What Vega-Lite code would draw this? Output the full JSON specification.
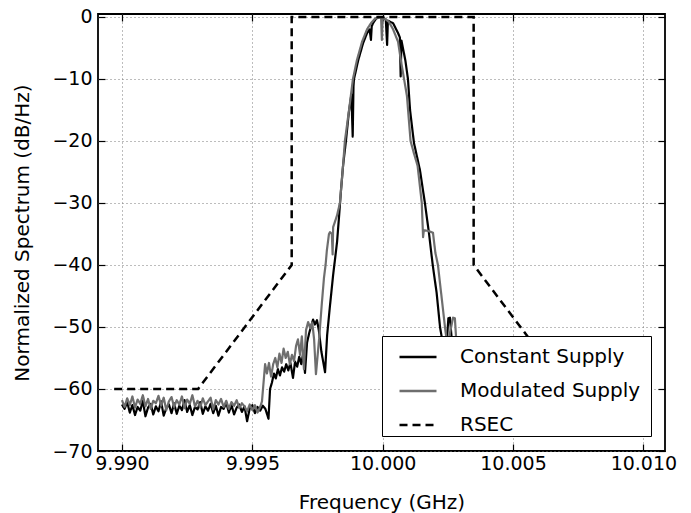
{
"$schema": "https://vega.github.io/schema/vega-lite/v6.json",
"width": 567, "height": 437,
"autosize": {"type": "none"},
"padding": {"left": 98, "top": 14, "right": 26, "bottom": 62},
"background": "white",
"config": {
  "view": {"stroke": "black", "strokeWidth": 1.8},
  "font": "DejaVu Sans"
},
"layer": [
{
"data": {"values": [
{"f":9.9900,"db":-62.5,"s":"Constant Supply"},{"f":9.9901,"db":-63.2,"s":"Constant Supply"},{"f":9.9902,"db":-62.1,"s":"Constant Supply"},{"f":9.9903,"db":-63.8,"s":"Constant Supply"},{"f":9.9904,"db":-62.6,"s":"Constant Supply"},{"f":9.9905,"db":-64.2,"s":"Constant Supply"},{"f":9.9906,"db":-62.9,"s":"Constant Supply"},{"f":9.9907,"db":-63.5,"s":"Constant Supply"},{"f":9.9908,"db":-61.9,"s":"Constant Supply"},{"f":9.9909,"db":-64.4,"s":"Constant Supply"},
{"f":9.9910,"db":-63.0,"s":"Constant Supply"},{"f":9.9911,"db":-62.4,"s":"Constant Supply"},{"f":9.9912,"db":-64.1,"s":"Constant Supply"},{"f":9.9913,"db":-62.8,"s":"Constant Supply"},{"f":9.9914,"db":-63.6,"s":"Constant Supply"},{"f":9.9915,"db":-62.0,"s":"Constant Supply"},{"f":9.9916,"db":-64.3,"s":"Constant Supply"},{"f":9.9917,"db":-63.1,"s":"Constant Supply"},{"f":9.9918,"db":-62.5,"s":"Constant Supply"},{"f":9.9919,"db":-63.9,"s":"Constant Supply"},
{"f":9.9920,"db":-62.3,"s":"Constant Supply"},{"f":9.9921,"db":-64.0,"s":"Constant Supply"},{"f":9.9922,"db":-62.7,"s":"Constant Supply"},{"f":9.9923,"db":-63.4,"s":"Constant Supply"},{"f":9.9924,"db":-61.8,"s":"Constant Supply"},{"f":9.9925,"db":-63.7,"s":"Constant Supply"},{"f":9.9926,"db":-62.6,"s":"Constant Supply"},{"f":9.9927,"db":-64.2,"s":"Constant Supply"},{"f":9.9928,"db":-62.9,"s":"Constant Supply"},{"f":9.9929,"db":-63.3,"s":"Constant Supply"},
{"f":9.9930,"db":-62.1,"s":"Constant Supply"},{"f":9.9931,"db":-64.0,"s":"Constant Supply"},{"f":9.9932,"db":-62.8,"s":"Constant Supply"},{"f":9.9933,"db":-63.5,"s":"Constant Supply"},{"f":9.9934,"db":-62.4,"s":"Constant Supply"},{"f":9.9935,"db":-63.9,"s":"Constant Supply"},{"f":9.9936,"db":-62.7,"s":"Constant Supply"},{"f":9.9937,"db":-64.3,"s":"Constant Supply"},{"f":9.9938,"db":-62.9,"s":"Constant Supply"},{"f":9.9939,"db":-63.2,"s":"Constant Supply"},
{"f":9.9940,"db":-62.2,"s":"Constant Supply"},{"f":9.9941,"db":-63.8,"s":"Constant Supply"},{"f":9.9942,"db":-62.6,"s":"Constant Supply"},{"f":9.9943,"db":-64.1,"s":"Constant Supply"},{"f":9.9944,"db":-63.0,"s":"Constant Supply"},{"f":9.9945,"db":-62.5,"s":"Constant Supply"},{"f":9.9946,"db":-63.7,"s":"Constant Supply"},{"f":9.9947,"db":-62.8,"s":"Constant Supply"},{"f":9.9948,"db":-65.2,"s":"Constant Supply"},{"f":9.9949,"db":-63.1,"s":"Constant Supply"},
{"f":9.9950,"db":-62.6,"s":"Constant Supply"},{"f":9.9951,"db":-63.9,"s":"Constant Supply"},{"f":9.9952,"db":-62.9,"s":"Constant Supply"},{"f":9.9953,"db":-63.5,"s":"Constant Supply"},{"f":9.9954,"db":-62.7,"s":"Constant Supply"},{"f":9.9955,"db":-63.2,"s":"Constant Supply"},{"f":9.99562,"db":-64.8,"s":"Constant Supply"},{"f":9.99568,"db":-60.0,"s":"Constant Supply"},
{"f":9.99575,"db":-59.0,"s":"Constant Supply"},{"f":9.99583,"db":-57.5,"s":"Constant Supply"},{"f":9.9959,"db":-58.3,"s":"Constant Supply"},{"f":9.99598,"db":-56.8,"s":"Constant Supply"},{"f":9.99606,"db":-57.8,"s":"Constant Supply"},{"f":9.99614,"db":-56.5,"s":"Constant Supply"},{"f":9.99622,"db":-57.2,"s":"Constant Supply"},{"f":9.9963,"db":-56.0,"s":"Constant Supply"},{"f":9.99638,"db":-57.0,"s":"Constant Supply"},{"f":9.99646,"db":-55.8,"s":"Constant Supply"},
{"f":9.99656,"db":-58.2,"s":"Constant Supply"},{"f":9.99664,"db":-55.6,"s":"Constant Supply"},{"f":9.99672,"db":-56.4,"s":"Constant Supply"},{"f":9.9968,"db":-54.8,"s":"Constant Supply"},{"f":9.99688,"db":-56.0,"s":"Constant Supply"},{"f":9.99695,"db":-54.2,"s":"Constant Supply"},{"f":9.99702,"db":-57.4,"s":"Constant Supply"},{"f":9.9971,"db":-52.5,"s":"Constant Supply"},{"f":9.99718,"db":-51.0,"s":"Constant Supply"},{"f":9.99726,"db":-49.8,"s":"Constant Supply"},
{"f":9.99733,"db":-48.8,"s":"Constant Supply"},{"f":9.9974,"db":-49.6,"s":"Constant Supply"},{"f":9.99748,"db":-48.9,"s":"Constant Supply"},{"f":9.99755,"db":-50.5,"s":"Constant Supply"},{"f":9.99765,"db":-54.0,"s":"Constant Supply"},{"f":9.99779,"db":-57.3,"s":"Constant Supply"},{"f":9.99787,"db":-51.3,"s":"Constant Supply"},{"f":9.99798,"db":-46.5,"s":"Constant Supply"},{"f":9.9981,"db":-41.6,"s":"Constant Supply"},{"f":9.99825,"db":-36.3,"s":"Constant Supply"},
{"f":9.99833,"db":-32.0,"s":"Constant Supply"},{"f":9.9984,"db":-28.0,"s":"Constant Supply"},{"f":9.99848,"db":-24.0,"s":"Constant Supply"},{"f":9.99859,"db":-20.0,"s":"Constant Supply"},{"f":9.9987,"db":-15.5,"s":"Constant Supply"},{"f":9.9988,"db":-12.5,"s":"Constant Supply"},{"f":9.99885,"db":-19.3,"s":"Constant Supply"},{"f":9.99888,"db":-11.2,"s":"Constant Supply"},{"f":9.9989,"db":-10.0,"s":"Constant Supply"},{"f":9.99906,"db":-7.0,"s":"Constant Supply"},
{"f":9.99925,"db":-4.2,"s":"Constant Supply"},{"f":9.9994,"db":-2.6,"s":"Constant Supply"},{"f":9.9995,"db":-2.0,"s":"Constant Supply"},{"f":9.99955,"db":-3.7,"s":"Constant Supply"},{"f":9.99958,"db":-1.5,"s":"Constant Supply"},{"f":9.99963,"db":-1.0,"s":"Constant Supply"},{"f":9.99974,"db":-0.3,"s":"Constant Supply"},{"f":9.99986,"db":0.0,"s":"Constant Supply"},{"f":10.00001,"db":-0.1,"s":"Constant Supply"},{"f":10.00012,"db":-0.4,"s":"Constant Supply"},
{"f":10.00017,"db":-4.5,"s":"Constant Supply"},{"f":10.0002,"db":-0.6,"s":"Constant Supply"},{"f":10.0004,"db":-1.0,"s":"Constant Supply"},{"f":10.00059,"db":-2.6,"s":"Constant Supply"},{"f":10.00066,"db":-3.3,"s":"Constant Supply"},{"f":10.00069,"db":-9.6,"s":"Constant Supply"},{"f":10.00072,"db":-3.8,"s":"Constant Supply"},{"f":10.0008,"db":-5.5,"s":"Constant Supply"},{"f":10.00087,"db":-7.0,"s":"Constant Supply"},{"f":10.00097,"db":-10.0,"s":"Constant Supply"},
{"f":10.00105,"db":-15.0,"s":"Constant Supply"},{"f":10.0012,"db":-20.3,"s":"Constant Supply"},{"f":10.00143,"db":-24.7,"s":"Constant Supply"},{"f":10.00162,"db":-30.0,"s":"Constant Supply"},{"f":10.00178,"db":-35.0,"s":"Constant Supply"},{"f":10.00192,"db":-40.0,"s":"Constant Supply"},{"f":10.00207,"db":-44.5,"s":"Constant Supply"},{"f":10.0022,"db":-50.0,"s":"Constant Supply"},{"f":10.00226,"db":-51.5,"s":"Constant Supply"},{"f":10.00235,"db":-54.0,"s":"Constant Supply"},
{"f":10.00245,"db":-53.0,"s":"Constant Supply"},{"f":10.00252,"db":-48.6,"s":"Constant Supply"},{"f":10.00258,"db":-48.5,"s":"Constant Supply"},{"f":10.00265,"db":-52.0,"s":"Constant Supply"},{"f":10.00275,"db":-56.0,"s":"Constant Supply"},
{"f":10.0028,"db":-58.0,"s":"Constant Supply"},{"f":10.003,"db":-61.0,"s":"Constant Supply"},{"f":10.0033,"db":-62.5,"s":"Constant Supply"},{"f":10.0036,"db":-63.1,"s":"Constant Supply"},{"f":10.004,"db":-62.4,"s":"Constant Supply"},{"f":10.0045,"db":-63.5,"s":"Constant Supply"},{"f":10.005,"db":-62.7,"s":"Constant Supply"},{"f":10.0055,"db":-63.8,"s":"Constant Supply"},{"f":10.006,"db":-62.9,"s":"Constant Supply"},{"f":10.0065,"db":-63.4,"s":"Constant Supply"},{"f":10.007,"db":-62.6,"s":"Constant Supply"},{"f":10.0075,"db":-64.0,"s":"Constant Supply"},{"f":10.008,"db":-62.8,"s":"Constant Supply"},{"f":10.0085,"db":-63.6,"s":"Constant Supply"},{"f":10.009,"db":-62.5,"s":"Constant Supply"},{"f":10.0095,"db":-63.9,"s":"Constant Supply"},{"f":10.01,"db":-63.0,"s":"Constant Supply"},

{"f":9.9900,"db":-61.8,"s":"Modulated Supply"},{"f":9.9901,"db":-62.9,"s":"Modulated Supply"},{"f":9.9902,"db":-61.5,"s":"Modulated Supply"},{"f":9.9903,"db":-62.6,"s":"Modulated Supply"},{"f":9.9904,"db":-61.2,"s":"Modulated Supply"},{"f":9.9905,"db":-63.0,"s":"Modulated Supply"},{"f":9.9906,"db":-61.7,"s":"Modulated Supply"},{"f":9.9907,"db":-62.4,"s":"Modulated Supply"},{"f":9.9908,"db":-61.0,"s":"Modulated Supply"},{"f":9.9909,"db":-62.8,"s":"Modulated Supply"},
{"f":9.9910,"db":-61.6,"s":"Modulated Supply"},{"f":9.9911,"db":-63.2,"s":"Modulated Supply"},{"f":9.9912,"db":-61.9,"s":"Modulated Supply"},{"f":9.9913,"db":-62.3,"s":"Modulated Supply"},{"f":9.9914,"db":-61.1,"s":"Modulated Supply"},{"f":9.9915,"db":-62.7,"s":"Modulated Supply"},{"f":9.9916,"db":-61.4,"s":"Modulated Supply"},{"f":9.9917,"db":-63.4,"s":"Modulated Supply"},{"f":9.9918,"db":-62.0,"s":"Modulated Supply"},{"f":9.9919,"db":-61.3,"s":"Modulated Supply"},
{"f":9.9920,"db":-62.9,"s":"Modulated Supply"},{"f":9.9921,"db":-61.8,"s":"Modulated Supply"},{"f":9.9922,"db":-62.5,"s":"Modulated Supply"},{"f":9.9923,"db":-61.2,"s":"Modulated Supply"},{"f":9.9924,"db":-63.1,"s":"Modulated Supply"},{"f":9.9925,"db":-61.7,"s":"Modulated Supply"},{"f":9.9926,"db":-62.4,"s":"Modulated Supply"},{"f":9.9927,"db":-61.0,"s":"Modulated Supply"},{"f":9.9928,"db":-62.8,"s":"Modulated Supply"},{"f":9.9929,"db":-61.9,"s":"Modulated Supply"},
{"f":9.9930,"db":-63.0,"s":"Modulated Supply"},{"f":9.9931,"db":-61.5,"s":"Modulated Supply"},{"f":9.9932,"db":-62.6,"s":"Modulated Supply"},{"f":9.9933,"db":-62.0,"s":"Modulated Supply"},{"f":9.9934,"db":-61.4,"s":"Modulated Supply"},{"f":9.9935,"db":-63.3,"s":"Modulated Supply"},{"f":9.9936,"db":-61.8,"s":"Modulated Supply"},{"f":9.9937,"db":-62.5,"s":"Modulated Supply"},{"f":9.9938,"db":-61.6,"s":"Modulated Supply"},{"f":9.9939,"db":-62.9,"s":"Modulated Supply"},
{"f":9.9940,"db":-61.9,"s":"Modulated Supply"},{"f":9.9941,"db":-63.2,"s":"Modulated Supply"},{"f":9.9942,"db":-62.1,"s":"Modulated Supply"},{"f":9.9943,"db":-62.7,"s":"Modulated Supply"},{"f":9.9944,"db":-61.8,"s":"Modulated Supply"},{"f":9.9945,"db":-63.1,"s":"Modulated Supply"},{"f":9.9946,"db":-62.3,"s":"Modulated Supply"},{"f":9.9947,"db":-62.8,"s":"Modulated Supply"},{"f":9.9948,"db":-63.6,"s":"Modulated Supply"},{"f":9.9949,"db":-62.5,"s":"Modulated Supply"},
{"f":9.9950,"db":-63.4,"s":"Modulated Supply"},{"f":9.9951,"db":-62.6,"s":"Modulated Supply"},{"f":9.9952,"db":-63.8,"s":"Modulated Supply"},{"f":9.9953,"db":-62.9,"s":"Modulated Supply"},{"f":9.99537,"db":-62.0,"s":"Modulated Supply"},{"f":9.99549,"db":-56.0,"s":"Modulated Supply"},{"f":9.99556,"db":-57.5,"s":"Modulated Supply"},{"f":9.99564,"db":-55.8,"s":"Modulated Supply"},{"f":9.99572,"db":-58.0,"s":"Modulated Supply"},{"f":9.9958,"db":-56.0,"s":"Modulated Supply"},
{"f":9.99588,"db":-55.0,"s":"Modulated Supply"},{"f":9.99596,"db":-56.5,"s":"Modulated Supply"},{"f":9.99604,"db":-54.3,"s":"Modulated Supply"},{"f":9.99612,"db":-55.8,"s":"Modulated Supply"},{"f":9.9962,"db":-53.5,"s":"Modulated Supply"},{"f":9.99628,"db":-55.0,"s":"Modulated Supply"},{"f":9.99636,"db":-54.0,"s":"Modulated Supply"},{"f":9.99644,"db":-56.0,"s":"Modulated Supply"},{"f":9.99652,"db":-54.5,"s":"Modulated Supply"},{"f":9.9966,"db":-55.5,"s":"Modulated Supply"},
{"f":9.99668,"db":-53.0,"s":"Modulated Supply"},{"f":9.99675,"db":-52.0,"s":"Modulated Supply"},{"f":9.99683,"db":-54.5,"s":"Modulated Supply"},{"f":9.9969,"db":-51.5,"s":"Modulated Supply"},{"f":9.99698,"db":-56.8,"s":"Modulated Supply"},{"f":9.99706,"db":-50.5,"s":"Modulated Supply"},{"f":9.99714,"db":-49.2,"s":"Modulated Supply"},{"f":9.99722,"db":-50.2,"s":"Modulated Supply"},{"f":9.9973,"db":-49.3,"s":"Modulated Supply"},{"f":9.99737,"db":-52.0,"s":"Modulated Supply"},
{"f":9.99744,"db":-57.6,"s":"Modulated Supply"},{"f":9.99756,"db":-52.0,"s":"Modulated Supply"},{"f":9.99767,"db":-46.0,"s":"Modulated Supply"},{"f":9.99775,"db":-42.0,"s":"Modulated Supply"},{"f":9.99781,"db":-40.0,"s":"Modulated Supply"},{"f":9.99786,"db":-37.6,"s":"Modulated Supply"},{"f":9.99794,"db":-35.0,"s":"Modulated Supply"},{"f":9.99798,"db":-34.7,"s":"Modulated Supply"},{"f":9.99805,"db":-35.0,"s":"Modulated Supply"},{"f":9.99808,"db":-38.3,"s":"Modulated Supply"},
{"f":9.9981,"db":-33.9,"s":"Modulated Supply"},{"f":9.99825,"db":-32.0,"s":"Modulated Supply"},{"f":9.99836,"db":-30.0,"s":"Modulated Supply"},{"f":9.99848,"db":-24.0,"s":"Modulated Supply"},{"f":9.99855,"db":-20.0,"s":"Modulated Supply"},{"f":9.99871,"db":-15.0,"s":"Modulated Supply"},{"f":9.99886,"db":-10.0,"s":"Modulated Supply"},{"f":9.99901,"db":-7.0,"s":"Modulated Supply"},{"f":9.99921,"db":-4.0,"s":"Modulated Supply"},{"f":9.9994,"db":-2.0,"s":"Modulated Supply"},
{"f":9.99955,"db":-1.0,"s":"Modulated Supply"},{"f":9.9997,"db":-0.3,"s":"Modulated Supply"},{"f":9.99986,"db":0.0,"s":"Modulated Supply"},{"f":9.99994,"db":-0.2,"s":"Modulated Supply"},{"f":9.99997,"db":-3.7,"s":"Modulated Supply"},{"f":10.0,"db":-0.2,"s":"Modulated Supply"},{"f":10.00009,"db":-0.3,"s":"Modulated Supply"},{"f":10.00024,"db":-0.8,"s":"Modulated Supply"},{"f":10.0004,"db":-2.0,"s":"Modulated Supply"},{"f":10.00059,"db":-4.0,"s":"Modulated Supply"},
{"f":10.0007,"db":-7.0,"s":"Modulated Supply"},{"f":10.00082,"db":-10.0,"s":"Modulated Supply"},{"f":10.00093,"db":-12.7,"s":"Modulated Supply"},{"f":10.00107,"db":-20.0,"s":"Modulated Supply"},{"f":10.0012,"db":-22.0,"s":"Modulated Supply"},{"f":10.00134,"db":-24.0,"s":"Modulated Supply"},{"f":10.0015,"db":-30.0,"s":"Modulated Supply"},{"f":10.00155,"db":-35.5,"s":"Modulated Supply"},{"f":10.00158,"db":-34.4,"s":"Modulated Supply"},{"f":10.00174,"db":-34.5,"s":"Modulated Supply"},
{"f":10.00193,"db":-34.8,"s":"Modulated Supply"},{"f":10.00202,"db":-38.0,"s":"Modulated Supply"},{"f":10.00212,"db":-40.0,"s":"Modulated Supply"},{"f":10.00239,"db":-50.0,"s":"Modulated Supply"},{"f":10.00248,"db":-53.0,"s":"Modulated Supply"},{"f":10.0027,"db":-48.5,"s":"Modulated Supply"},{"f":10.00277,"db":-48.6,"s":"Modulated Supply"},{"f":10.00285,"db":-54.0,"s":"Modulated Supply"},
{"f":10.0029,"db":-58.5,"s":"Modulated Supply"},{"f":10.0031,"db":-60.5,"s":"Modulated Supply"},{"f":10.0034,"db":-61.8,"s":"Modulated Supply"},{"f":10.0037,"db":-62.4,"s":"Modulated Supply"},{"f":10.0041,"db":-61.6,"s":"Modulated Supply"},{"f":10.0046,"db":-62.7,"s":"Modulated Supply"},{"f":10.0051,"db":-61.9,"s":"Modulated Supply"},{"f":10.0056,"db":-62.8,"s":"Modulated Supply"},{"f":10.0061,"db":-62.1,"s":"Modulated Supply"},{"f":10.0066,"db":-62.6,"s":"Modulated Supply"},{"f":10.0071,"db":-61.7,"s":"Modulated Supply"},{"f":10.0076,"db":-63.0,"s":"Modulated Supply"},{"f":10.0081,"db":-62.2,"s":"Modulated Supply"},{"f":10.0086,"db":-62.9,"s":"Modulated Supply"},{"f":10.0091,"db":-61.8,"s":"Modulated Supply"},{"f":10.0096,"db":-62.7,"s":"Modulated Supply"},{"f":10.01,"db":-62.3,"s":"Modulated Supply"}
]},
"mark": {"type": "line", "strokeWidth": 2.2, "strokeJoin": "round"},
"encoding": {
  "x": {"field": "f", "type": "quantitative",
        "scale": {"domain": [9.98908, 10.01083], "nice": false, "zero": false},
        "axis": {"orient": "bottom", "values": [9.99, 9.995, 10, 10.005, 10.01], "format": ".3f",
                 "title": "Frequency (GHz)", "grid": true, "gridDash": [1, 3], "gridColor": "#7a7a7a", "gridWidth": 1,
                 "domain": false, "tickSize": -7, "tickColor": "black", "tickWidth": 1.2,
                 "labelFontSize": 19, "labelColor": "black", "labelPadding": 10, "labelFlush": false, "labelOverlap": false,
                 "titleFontSize": 20, "titleFontWeight": "normal", "titleColor": "black", "titlePadding": 19}},
  "y": {"field": "db", "type": "quantitative",
        "scale": {"domain": [-70, 0.48], "nice": false, "zero": false},
        "axis": {"orient": "left", "values": [0, -10, -20, -30, -40, -50, -60, -70], "format": "d",
                 "title": "Normalized Spectrum (dB/Hz)", "grid": true, "gridDash": [1, 3], "gridColor": "#7a7a7a", "gridWidth": 1,
                 "domain": false, "tickSize": -7, "tickColor": "black", "tickWidth": 1.2,
                 "labelFontSize": 19, "labelColor": "black", "labelPadding": 13, "labelFlush": false, "labelOverlap": false,
                 "titleFontSize": 20, "titleFontWeight": "normal", "titleColor": "black", "titlePadding": 19}},
  "color": {"field": "s", "type": "nominal",
            "scale": {"domain": ["Constant Supply", "Modulated Supply", "RSEC"], "range": ["#000000", "#6e6e6e", "#000000"]},
            "legend": {"title": "\u00a0", "titleOrient": "right", "titlePadding": 10, "titleFontSize": 2,
                       "orient": "none", "legendX": 284, "legendY": 322, "fillColor": "white", "strokeColor": "black",
                       "padding": 1, "labelFontSize": 20, "labelColor": "black", "labelLimit": 0,
                       "symbolType": "stroke", "symbolSize": 1369, "symbolOffset": 15,
                       "symbolStrokeWidth": 2.5, "labelOffset": 22, "rowPadding": 4}},
  "strokeDash": {"field": "s", "type": "nominal",
            "scale": {"domain": ["Constant Supply", "Modulated Supply", "RSEC"], "range": [[1, 0], [1, 0], [8, 5]]},
            "legend": {"title": "\u00a0", "titleOrient": "right", "titlePadding": 10, "titleFontSize": 2,
                       "orient": "none", "legendX": 284, "legendY": 322, "fillColor": "white", "strokeColor": "black",
                       "padding": 1, "labelFontSize": 20, "labelColor": "black", "labelLimit": 0,
                       "symbolType": "stroke", "symbolSize": 1369, "symbolOffset": 15,
                       "symbolStrokeWidth": 2.5, "labelOffset": 22, "rowPadding": 4}}
}
},
{
"data": {"values": [
{"i":1,"f":9.9897,"db":-60,"s":"RSEC"},
{"i":2,"f":9.99292,"db":-60,"s":"RSEC"},
{"i":3,"f":9.99651,"db":-40,"s":"RSEC"},
{"i":4,"f":9.99651,"db":0,"s":"RSEC"},
{"i":5,"f":10.00349,"db":0,"s":"RSEC"},
{"i":6,"f":10.00349,"db":-40,"s":"RSEC"},
{"i":7,"f":10.00708,"db":-60,"s":"RSEC"},
{"i":8,"f":10.0103,"db":-60,"s":"RSEC"}
]},
"mark": {"type": "line", "strokeWidth": 2.5},
"encoding": {
  "x": {"field": "f", "type": "quantitative",
        "scale": {"domain": [9.98908, 10.01083], "nice": false, "zero": false},
        "axis": {"orient": "top", "values": [9.99, 9.995, 10, 10.005, 10.01], "labels": false, "title": null, "grid": false,
                 "domain": false, "tickSize": -7, "tickColor": "black", "tickWidth": 1.2}},
  "y": {"field": "db", "type": "quantitative",
        "scale": {"domain": [-70, 0.48], "nice": false, "zero": false},
        "axis": {"orient": "right", "values": [0, -10, -20, -30, -40, -50, -60, -70], "labels": false, "title": null, "grid": false,
                 "domain": false, "tickSize": -7, "tickColor": "black", "tickWidth": 1.2}},
  "order": {"field": "i", "type": "quantitative"},
  "color": {"field": "s", "type": "nominal",
            "scale": {"domain": ["Constant Supply", "Modulated Supply", "RSEC"], "range": ["#000000", "#6e6e6e", "#000000"]}},
  "strokeDash": {"field": "s", "type": "nominal",
            "scale": {"domain": ["Constant Supply", "Modulated Supply", "RSEC"], "range": [[1, 0], [1, 0], [8, 5]]}}
}
}
],
"resolve": {"axis": {"x": "independent", "y": "independent"}}
}
